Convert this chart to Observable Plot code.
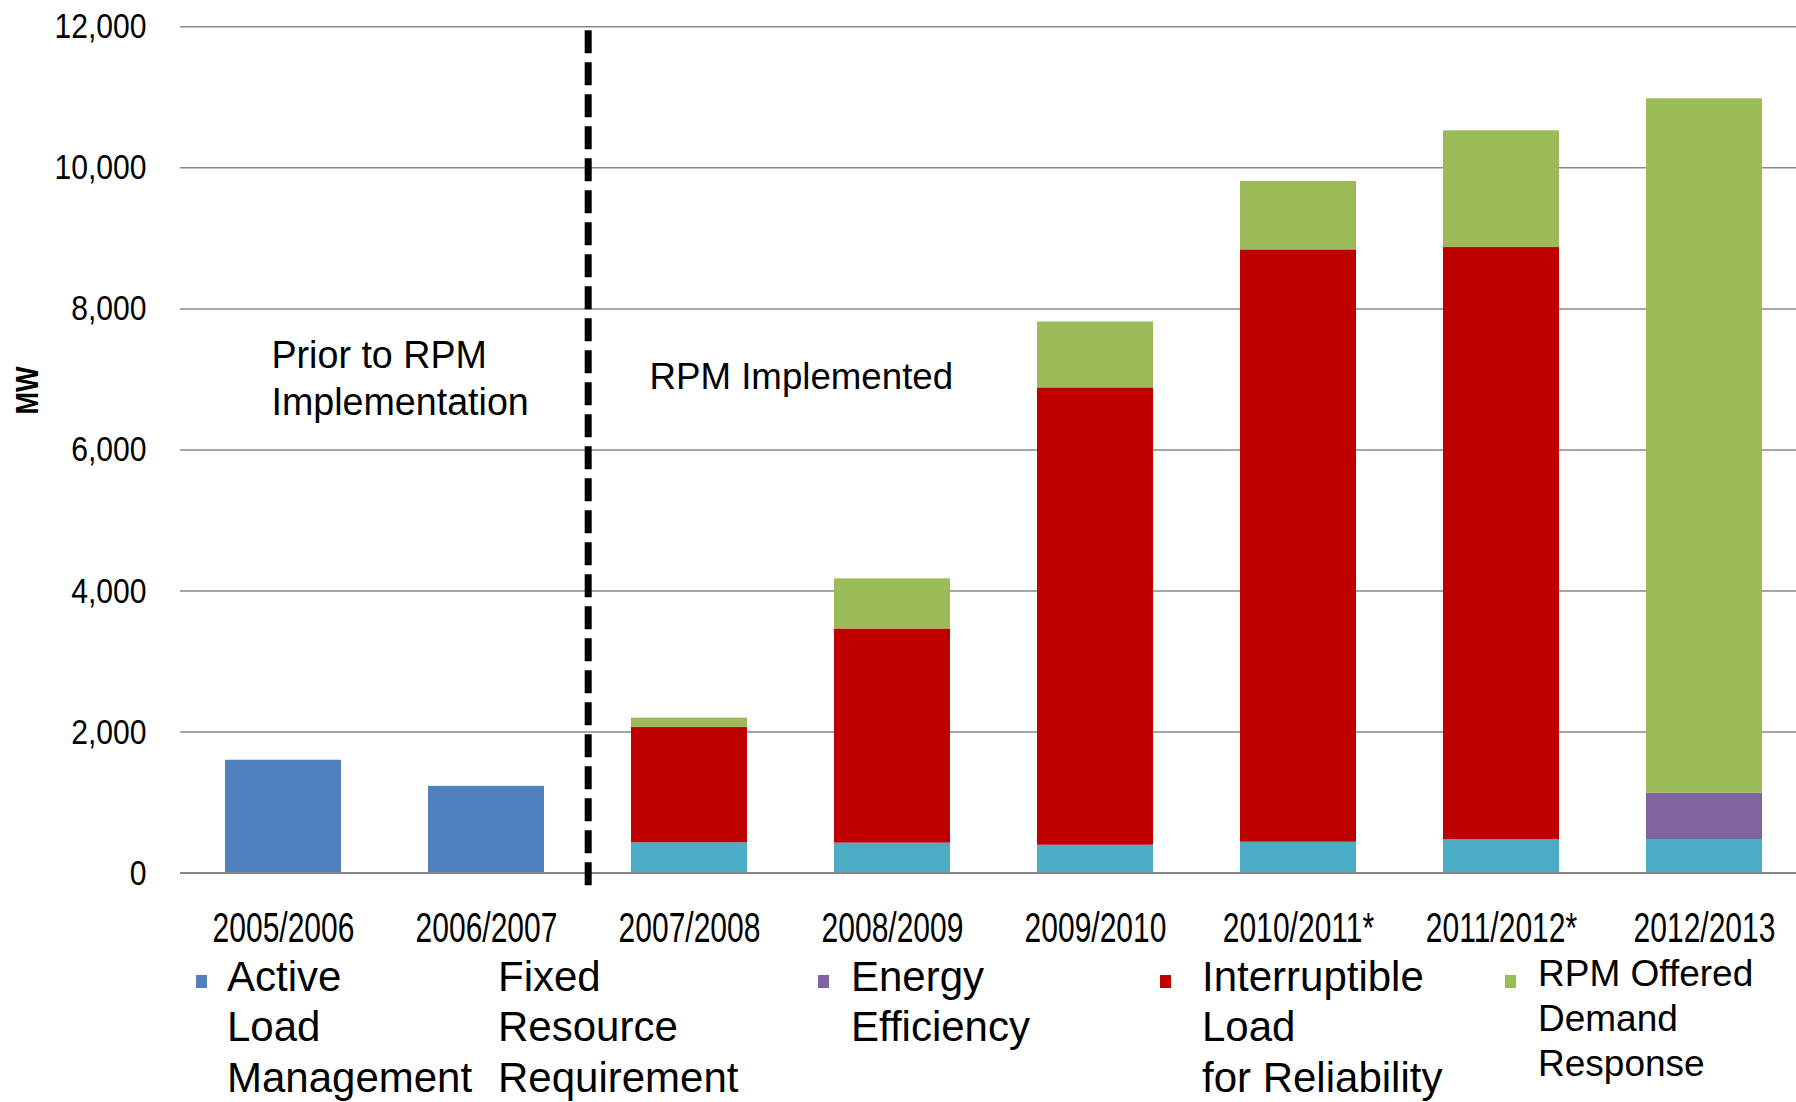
<!DOCTYPE html>
<html><head><meta charset="utf-8">
<script src="https://cdn.jsdelivr.net/npm/d3@7"></script>
<script src="https://cdn.jsdelivr.net/npm/@observablehq/plot@0.6"></script>
<style>
html,body{margin:0;padding:0;background:#fff;}
#wrap{width:1796px;height:1102px;position:relative;overflow:hidden;font-family:"Liberation Sans",Arial,sans-serif;background:#fff;}
#legend{position:relative;width:1796px;height:140px;}
.lg-mark{position:absolute;width:11px;height:13px;}
.lg-text{position:absolute;white-space:pre;color:#000;}
</style></head><body><div id="wrap"><div id="chart"></div><div id="legend"></div></div>
<script>
// ---- data ----
const categories = ["2005/2006","2006/2007","2007/2008","2008/2009","2009/2010","2010/2011*","2011/2012*","2012/2013"];
const seriesNames = ["Active Load Management","Fixed Resource Requirement","Energy Efficiency","Interruptible Load for Reliability","RPM Offered Demand Response"];
const seriesColors = ["#4F81BD","#4BACC6","#8064A2","#C00000","#9BBB59"];
const activeLoadManagement     = [1600,1230,0,0,0,0,0,0];
const fixedResourceRequirement = [0,0,430,425,395,438,476,476];
const energyEfficiency         = [0,0,0,0,0,0,0,657];
const interruptibleLoad        = [0,0,1634,3036,6485,8399,8394,0];
const rpmDemandResponse        = [0,0,133,711,934,969,1655,9846];
const yTicks = [0,2000,4000,6000,8000,10000,12000];
const yLabel = "MW";
const legendLabels = ["Active\nLoad\nManagement","Fixed\nResource\nRequirement","Energy\nEfficiency","Interruptible\nLoad\nfor Reliability","RPM Offered\nDemand\nResponse"];
const legendMarkerShown = [true,false,true,true,true];
const annotationPrior = {text:"Prior to RPM\nImplementation", x:"2005/2006", y:7652};
const annotationRPM = {text:"RPM Implemented", x:"2007/2008", y:7240};
const divider = {after:"2006/2007", from:-180, to:11960};

// ---- layout ----
const W = 1796, H = 962;
const marginLeft = 180, marginTop = 26.3, marginBottom = H - 872.6;
const xRange = [180, 1807];
const step = (xRange[1] - xRange[0]) / categories.length;
const font = '"Liberation Sans", Arial, sans-serif';

const seriesValues = [activeLoadManagement, fixedResourceRequirement, energyEfficiency, interruptibleLoad, rpmDemandResponse];
const stackOrder = [1, 2, 3, 4, 0];
const table = [];
categories.forEach((c, i) => {
  stackOrder.forEach(j => {
    const v = seriesValues[j][i];
    if (v > 0) table.push({year: c, series: seriesNames[j], value: v});
  });
});

const chart = Plot.plot({
  width: W, height: H,
  marginLeft, marginRight: 0, marginTop, marginBottom,
  style: {fontFamily: font, background: "white", color: "#000"},
  x: {type: "band", domain: categories, range: xRange, paddingInner: 0.427, paddingOuter: 0.2135},
  y: {domain: [0, 12000]},
  color: {domain: seriesNames, range: seriesColors},
  marks: [
    Plot.ruleY(yTicks.filter(t => t > 0), {stroke: "#888888", strokeWidth: 1.5}),
    Plot.barY(table, {x: "year", y: "value", fill: "series"}),
    Plot.ruleY([0], {stroke: "#868686", strokeWidth: 2}),
    Plot.ruleX([divider], {x: "after", y1: "from", y2: "to", dx: step / 2, stroke: "#000", strokeWidth: 7, strokeDasharray: "23,9"}),
    Plot.axisY({ticks: yTicks, tickSize: 0, tickPadding: 34, tickFormat: d3.format(","), fontSize: 36, label: null}),
    Plot.axisX({tickSize: 0, tickPadding: 39.5, fontSize: 42, label: null}),
    Plot.text([yLabel], {text: d => d, frameAnchor: "top-left", dx: 26 - marginLeft - 11, dy: 390 - marginTop, rotate: -90, fontWeight: "bold", fontSize: 31, textAnchor: "middle"}),
    Plot.text([annotationPrior], {x: "x", y: "y", text: "text", textAnchor: "start", lineAnchor: "top", fontSize: 39, lineHeight: 1.23, dx: -12}),
    Plot.text([annotationRPM], {x: "x", y: "y", text: "text", textAnchor: "start", lineAnchor: "top", fontSize: 37.5, dx: -40})
  ]
});
document.getElementById("chart").appendChild(chart);

function squeezeEl(t, s) {
  const x = parseFloat(t.getAttribute("x") || 0) || 0;
  t.setAttribute("transform", (t.getAttribute("transform") || "") + ` translate(${x},0) scale(${s},1) translate(${-x},0)`);
}
chart.querySelectorAll('g[aria-label="x-axis tick label"] text').forEach(t => squeezeEl(t, 0.715));
chart.querySelectorAll('g[aria-label="y-axis tick label"] text').forEach(t => squeezeEl(t, 0.836));
const textSqueeze = [[yLabel, 0.87], ["Prior to RPM", 0.965], ["RPM Implemented", 0.978]];
chart.querySelectorAll("text").forEach(t => {
  const c = t.textContent;
  for (const [k, s] of textSqueeze) {
    if (c === k || c.startsWith(k)) { squeezeEl(t, s); break; }
  }
});

// ---- legend (placed directly below the svg) ----
const legend = document.getElementById("legend");
const shift = H - 950;
const markerLeft = [196, 468, 818, 1160, 1505];
const textLeft = [227, 498, 851, 1202, 1538];
const textSize = [42, 42, 42, 42, 37];
const textLine = [50.5, 50.5, 50.5, 50.5, 45];
const textTop = [1.9, 1.9, 1.9, 1.9, 1.4];
seriesNames.forEach((name, i) => {
  if (legendMarkerShown[i]) {
    const m = document.createElement("div");
    m.className = "lg-mark";
    m.style.left = markerLeft[i] + "px";
    m.style.top = (25 - shift) + "px";
    m.style.background = seriesColors[i];
    legend.appendChild(m);
  }
  const t = document.createElement("div");
  t.className = "lg-text";
  t.style.left = textLeft[i] + "px";
  t.style.top = (textTop[i] - shift) + "px";
  t.style.fontSize = textSize[i] + "px";
  t.style.lineHeight = textLine[i] + "px";
  t.textContent = legendLabels[i];
  legend.appendChild(t);
});
</script></body></html>
